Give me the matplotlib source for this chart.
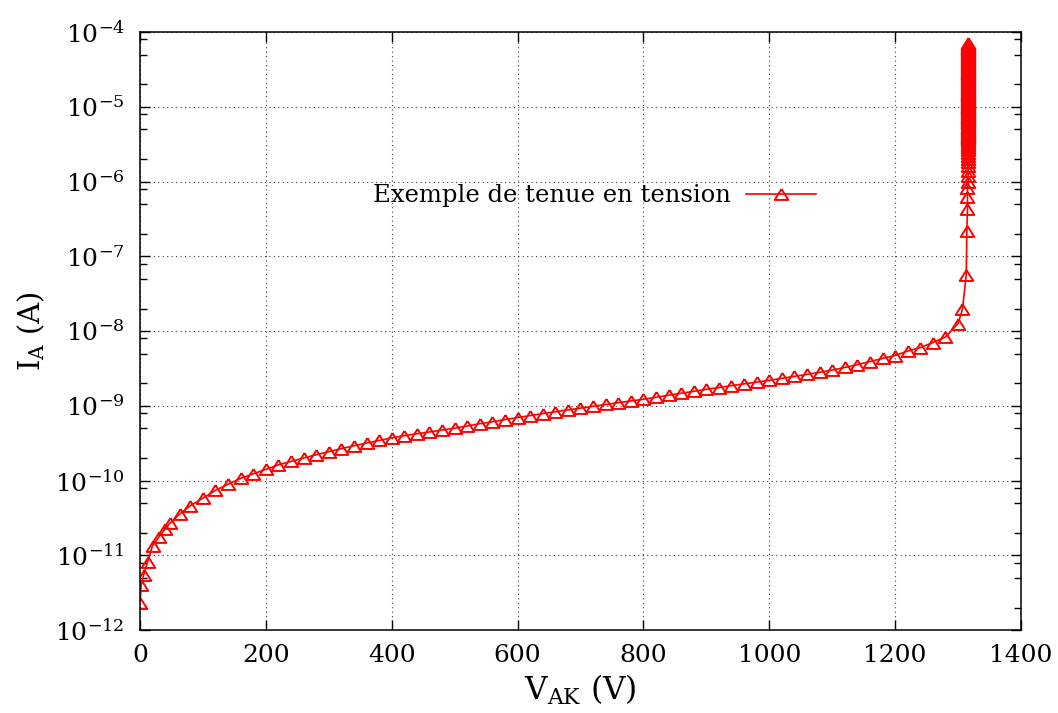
import matplotlib
matplotlib.use("Agg")
import matplotlib.pyplot as plt
from matplotlib.ticker import FixedLocator, LogFormatterMathtext, NullFormatter

# tension anode-cathode (V) et courant d'anode (A)
v_ak = [0, 2, 6, 12, 20, 30, 40, 48, 64, 80,
        100, 120, 140, 160, 180, 200, 220, 240, 260, 280,
        300, 320, 340, 360, 380, 400, 420, 440, 460, 480,
        500, 520, 540, 560, 580, 600, 620, 640, 660, 680,
        700, 720, 740, 760, 780, 800, 820, 840, 860, 880,
        900, 920, 940, 960, 980, 1000, 1020, 1040, 1060, 1080,
        1100, 1120, 1140, 1160, 1180, 1200, 1220, 1240, 1260, 1280,
        1300, 1307, 1313, 1314, 1315, 1315, 1315]
i_a = [2.3e-12, 4.0e-12, 5.5e-12, 8.1e-12, 1.35e-11, 1.75e-11, 2.25e-11, 2.7e-11, 3.6e-11, 4.6e-11,
       5.8e-11, 7.4e-11, 8.9e-11, 1.07e-10, 1.23e-10, 1.41e-10, 1.62e-10, 1.8e-10, 2.0e-10, 2.21e-10,
       2.43e-10, 2.66e-10, 2.92e-10, 3.16e-10, 3.43e-10, 3.72e-10, 3.98e-10, 4.22e-10, 4.47e-10, 4.73e-10,
       5.0e-10, 5.37e-10, 5.75e-10, 6.1e-10, 6.53e-10, 6.95e-10, 7.4e-10, 7.85e-10, 8.3e-10, 8.8e-10,
       9.3e-10, 9.85e-10, 1.04e-9, 1.1e-9, 1.16e-9, 1.22e-9, 1.3e-9, 1.38e-9, 1.47e-9, 1.56e-9,
       1.66e-9, 1.75e-9, 1.86e-9, 1.96e-9, 2.07e-9, 2.19e-9, 2.33e-9, 2.48e-9, 2.64e-9, 2.8e-9,
       3.0e-9, 3.25e-9, 3.55e-9, 3.9e-9, 4.3e-9, 4.7e-9, 5.4e-9, 6.0e-9, 7.0e-9, 8.3e-9,
       1.26e-8, 1.95e-8, 5.6e-8, 2.2e-7, 4.3e-7, 6.3e-7, 8.3e-7]

# claquage : le courant monte a tension quasi constante (valeurs en uA)
v_claquage = 1316
i_claquage_ua = [1.0, 1.2, 1.4, 1.6, 1.8, 2.0, 2.2, 2.4, 2.6, 2.8, 3.0, 3.2, 3.4,
                 3.6, 3.7, 3.8, 3.9, 4.0, 4.1, 4.2, 4.35, 4.5, 4.65, 4.8, 4.95, 5.1, 5.25, 5.4,
                 5.6, 5.8, 6.0, 6.2, 6.4, 6.6, 6.8, 7.0, 7.2, 7.4, 7.6, 7.8, 8.0, 8.25, 8.5,
                 8.75, 9.0, 9.25, 9.5, 9.8, 10.0, 10.3, 10.6, 10.9, 11.2, 11.5, 11.8, 12.2,
                 12.6, 13.0, 13.4, 13.8, 14.2, 14.6, 15.0, 15.5, 16.0, 16.5, 17.0, 17.5, 18.0,
                 18.5, 19.0, 19.6, 20.2, 20.8, 21.4, 22.0, 22.7, 23.4, 24.1, 24.8, 25.5, 26.3,
                 27.1, 27.9, 28.7, 29.6, 30.5, 31.4, 32.3, 33.3, 34.3, 35.3, 36.4, 37.5, 38.6,
                 39.8, 41.0, 42.2, 43.5, 44.8, 46.1, 47.5, 48.9, 50.4, 51.9, 53.5, 55.1, 56.7,
                 58.4, 60.2, 62.0, 63.8, 65.7, 67.7, 69.7, 71.0]

x_ticks = [0, 200, 400, 600, 800, 1000, 1200, 1400]
y_ticks = [1e-12, 1e-11, 1e-10, 1e-9, 1e-8, 1e-7, 1e-6, 1e-5, 1e-4]
label_courbe = "Exemple de tenue en tension"

plt.rcParams['font.family'] = ['DejaVu Serif']
plt.rcParams['mathtext.fontset'] = 'dejavuserif'

v_tout = v_ak + [v_claquage] * len(i_claquage_ua)
i_tout = i_a + [c * 1e-6 for c in i_claquage_ua]

fig = plt.figure(figsize=(10.58, 7.13), dpi=100)
ax = fig.add_axes([0.1323, 0.1164, 0.8327, 0.8387])

tri = [(0, 0.8), (-1, -0.8), (1, -0.8), (0, 0.8)]
ax.plot(v_tout, i_tout, color='red', lw=1.2, marker=tri, ms=9.8,
        mfc='none', mec='red', mew=1.4, label=label_courbe)

ax.set_yscale('log')
ax.set_xlim(0, 1400)
ax.set_ylim(1e-12, 1e-4)
ax.set_xticks(x_ticks)
ax.yaxis.set_major_locator(FixedLocator(y_ticks))
minors = [m * t for t in y_ticks[:-1] for m in (2, 5, 8)]
ax.yaxis.set_minor_locator(FixedLocator(minors))
ax.yaxis.set_major_formatter(LogFormatterMathtext())
ax.yaxis.set_minor_formatter(NullFormatter())

ax.grid(True, which='major', color='0.25', linestyle=(0, (1, 3)), lw=0.8)
ax.tick_params(which='both', direction='in', top=True, right=True, labelsize=18, width=1)
ax.tick_params(which='major', length=7)
ax.tick_params(which='minor', length=5)
ax.tick_params(axis='y', pad=11)
ax.tick_params(axis='x', pad=10)
for s in ax.spines.values():
    s.set_linewidth(1.1)

ax.set_xlabel(r"V$_{\mathrm{AK}}$ (V)", fontsize=22.5, labelpad=4)
ax.set_ylabel(r"I$_{\mathrm{A}}$ (A)", fontsize=21, labelpad=6)

ax.legend(loc='center right', bbox_to_anchor=(0.7925, 0.726), frameon=False,
          markerfirst=False, fontsize=17.5, handlelength=2.9, handletextpad=0.6)

fig.savefig("out.png", dpi=100)
